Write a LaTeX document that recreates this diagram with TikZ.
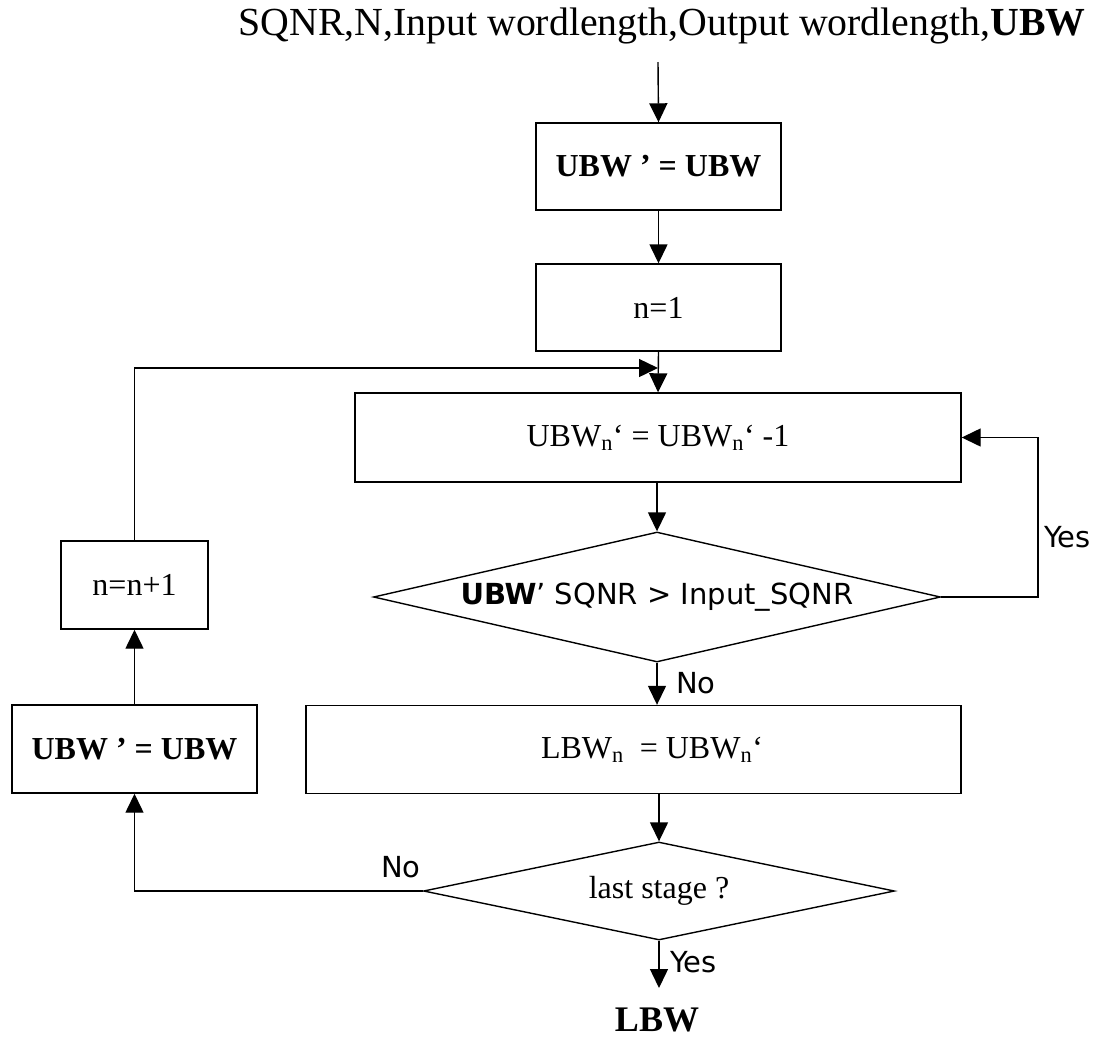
\documentclass[tikz,border=0pt]{standalone}
\usepackage{fontspec}
\setmainfont{Liberation Serif}
\newfontfamily\labelsans{DejaVu Sans}
\usetikzlibrary{arrows.meta,shapes.geometric}

\begin{document}
\begin{tikzpicture}[x=1pt,y=-1pt,
  line width=1.4pt,
  flow/.style={-{Triangle[length=19pt,width=18pt]}},
  stepbox/.style={draw,rectangle,inner sep=0pt},
  decision/.style={draw,diamond,inner sep=0pt},
  serif/.style={font=\fontsize{32}{38}\selectfont},
  sanslabel/.style={font=\labelsans\fontsize{29}{34}\selectfont},
]
\useasboundingbox (0,0) rectangle (1095,1037);

% inputs
\node[anchor=base,font=\fontsize{39.8}{46}\selectfont] (inp) at (662,35)
  {SQNR,N,Input wordlength,Output wordlength,\textbf{UBW}};
\coordinate (start) at (658,62);

% main column
\node[stepbox,minimum width=245,minimum height=87,serif] (b1) at (658.5,166.5)
  {\textbf{UBW ’ = UBW}};
\node[stepbox,minimum width=245,minimum height=87,serif] (b2) at (658.5,307.5)
  {n=1};
\node[stepbox,minimum width=606,minimum height=89,serif] (b3) at (658,437.5)
  {UBW\textsubscript{n}‘ = UBW\textsubscript{n}‘ -1};
\node[decision,minimum width=567,minimum height=130] (d1) at (657,597) {};
\node[sanslabel] (d1t) at (d1.center) {\textbf{UBW}’ SQNR > Input\_SQNR};
\node[stepbox,minimum width=655,minimum height=88] (b4) at (633.5,749.5) {};
\node[serif] (b4t) at (652,749.5) {LBW\textsubscript{n}\ \ = UBW\textsubscript{n}‘};
\node[decision,minimum width=471,minimum height=98] (d2) at (659,891) {};
\node[serif] (d2t) at (d2.center) {last stage ?};
\coordinate (finish) at (659,988);
\node[anchor=base,font=\fontsize{36}{42}\selectfont\bfseries] (out) at (657,1031) {LBW};

% outer loop column
\node[stepbox,minimum width=245,minimum height=88,serif] (b5) at (134.5,749)
  {\textbf{UBW ’ = UBW}};
\node[stepbox,minimum width=147,minimum height=88,serif] (b6) at (134.5,585)
  {n=n+1};

% helper points
\coordinate (join) at (658,368);
\coordinate (yesx) at (1038,597);

% connectors
\draw[flow] (start) -- (b1.north);
\draw[flow] (b1.south) -- (b2.north);
\draw[flow] (b2.south) -- (b3.north);
\draw[flow] (b3.south -| d1.north) -- (d1.north);
\draw[flow] (d1.south) -- (d1.south |- b4.north);
\draw[flow] (d1.east) -- (yesx) |- (b3.east);
\draw[flow] (d2.north |- b4.south) -- (d2.north);
\draw[flow] (d2.south) -- (finish);
\draw[flow] (d2.west) -| (b5.south);
\draw[flow] (b5.north) -- (b6.south);
\draw[flow] (b6.north) |- (join);

% branch labels
\node[sanslabel,anchor=base west] (yes1) at (1040,547) {Yes};
\node[sanslabel,anchor=base west] (no1) at (672,693) {No};
\node[sanslabel,anchor=base west] (no2) at (377,877) {No};
\node[sanslabel,anchor=base west] (yes2) at (666,972) {Yes};
\end{tikzpicture}
\end{document}
